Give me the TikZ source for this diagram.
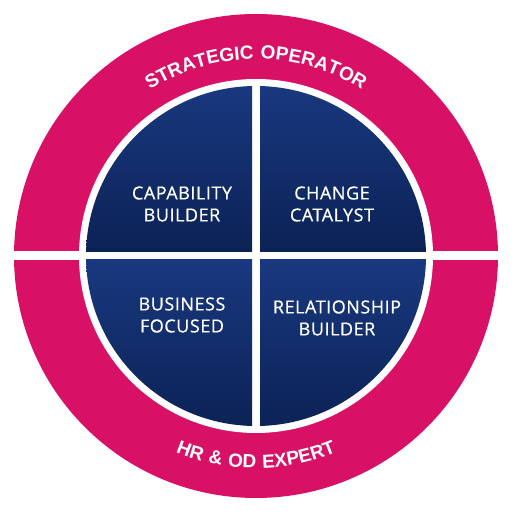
\documentclass[tikz,border=0pt]{standalone}
\usepackage{fontspec}
\usetikzlibrary{decorations.text,calc}
\newfontfamily\arcfont[LetterSpace=6]{Liberation Sans}
\newfontfamily\quadfont[LetterSpace=3,FakeBold=0.6]{Open Sans}
\definecolor{ringpink}{HTML}{D81166}
\definecolor{bluetop}{HTML}{19387F}
\definecolor{bluebot}{HTML}{0B2255}
\tikzset{
  quadtext/.style={align=center, text=white, inner sep=0pt,
    font=\quadfont\fontsize{18}{22}\selectfont},
  quadshade/.style={top color=bluetop, bottom color=bluebot, draw=none}
}
\begin{document}
\begin{tikzpicture}[x=1pt,y=1pt]
\useasboundingbox (0,0) rectangle (520,514);
\coordinate (C) at (256,258);
% outer ring
\fill[ringpink] (C) circle[radius=242];
\fill[white] (C) circle[radius=177];
\fill[white] (0,253.5) rectangle (520,262.5);
% quadrants
\begin{scope}
\clip (C) circle[radius=170];
\shade[quadshade] (80,262) rectangle (252,430);
\shade[quadshade] (260,262) rectangle (432,430);
\shade[quadshade] (80,86) rectangle (252,254);
\shade[quadshade] (260,86) rectangle (432,254);
\end{scope}
% curved texts
\path[decorate, decoration={text along path, text align=center,
  text color=white,
  text={|\arcfont\bfseries\fontsize{19}{19}\selectfont|STRATEGIC OPERATOR}}]
  ($(C)+(150:197)$) arc[start angle=150, end angle=30, radius=197];
\path[decorate, decoration={text along path, text align=center,
  text color=white,
  text={|\arcfont\bfseries\fontsize{19}{19}\selectfont|HR {\&} OD EXPERT}}]
  ($(C)+(210:212)$) arc[start angle=210, end angle=330, radius=212];
% quadrant labels
\node[quadtext] (cap) at (182,310) {CAPABILITY\\BUILDER};
\node[quadtext] (chg) at (332,310) {CHANGE\\CATALYST};
\node[quadtext] (bus) at (182,199) {BUSINESS\\FOCUSED};
\node[quadtext] (rel) at (337,196) {RELATIONSHIP\\BUILDER};
\end{tikzpicture}
\end{document}
